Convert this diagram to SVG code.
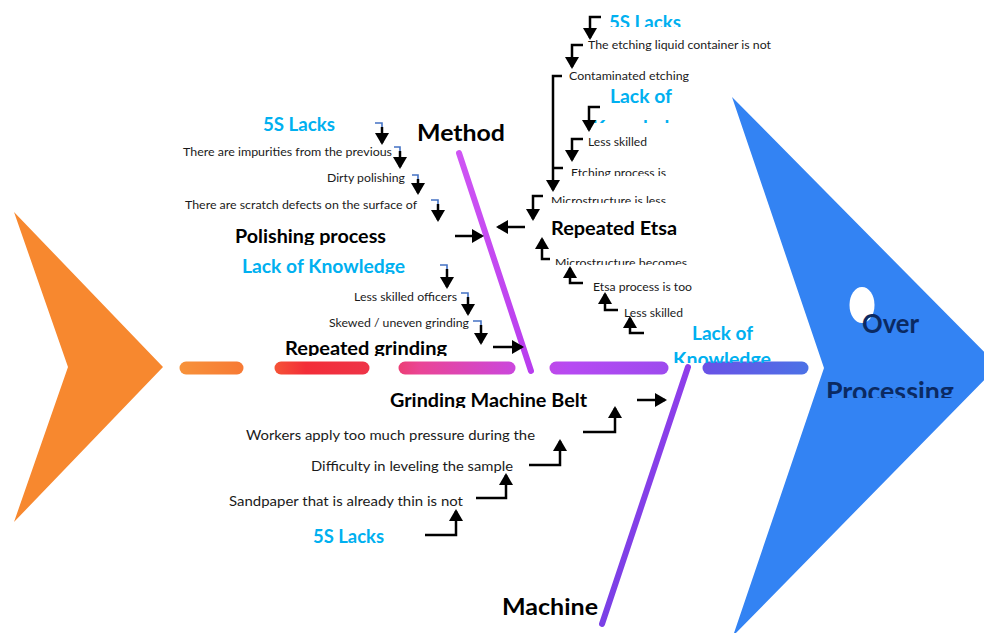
<svg xmlns="http://www.w3.org/2000/svg" width="984" height="633" viewBox="0 0 984 633">
  <style>
    text { font-family: Lato, "Liberation Sans", "DejaVu Sans", sans-serif; }
    .s { font-size: 11.5px; fill: #1a1a1a; }
    .m { font-size: 14px; fill: #1a1a1a; }
    .b { font-size: 18px; font-weight: bold; fill: #000; }
    .k { font-size: 18px; font-weight: bold; fill: #00B0F0; }
    .h { font-size: 23px; font-weight: bold; fill: #000; }
    .o { font-size: 26px; font-weight: bold; fill: #0B2A62; }
    .ar { stroke: #000; stroke-width: 2.5; fill: none; marker-end: url(#ah); }
    .ln { stroke: #000; stroke-width: 2.5; fill: none; }
    .tk { stroke: #4472C4; stroke-width: 1.6; fill: none; }
    .sp { stroke: url(#spineGrad); stroke-width: 13; stroke-linecap: round; }
  </style>
  <defs>
    <marker id="ah" markerUnits="userSpaceOnUse" markerWidth="12" markerHeight="14" refX="10" refY="7" orient="auto">
      <path d="M0,0 L12,7 L0,14 Z" fill="#000"/>
    </marker>
    <linearGradient id="spineGrad" gradientUnits="userSpaceOnUse" x1="180" y1="0" x2="810" y2="0">
      <stop offset="0" stop-color="#F7923A"/>
      <stop offset="0.1" stop-color="#F77A35"/>
      <stop offset="0.2" stop-color="#F32D38"/>
      <stop offset="0.3" stop-color="#EE3448"/>
      <stop offset="0.38" stop-color="#EA4595"/>
      <stop offset="0.53" stop-color="#CB47DC"/>
      <stop offset="0.62" stop-color="#B64AF2"/>
      <stop offset="0.78" stop-color="#9C4BEE"/>
      <stop offset="0.83" stop-color="#6A52E6"/>
      <stop offset="1" stop-color="#4B72E6"/>
    </linearGradient>
    <linearGradient id="methodGrad" gradientUnits="userSpaceOnUse" x1="459" y1="152" x2="531" y2="372">
      <stop offset="0" stop-color="#CF55F4"/>
      <stop offset="1" stop-color="#B83DEE"/>
    </linearGradient>
    <linearGradient id="machineGrad" gradientUnits="userSpaceOnUse" x1="688" y1="366" x2="602" y2="625">
      <stop offset="0" stop-color="#8F3EEA"/>
      <stop offset="1" stop-color="#7A40E6"/>
    </linearGradient>
    <clipPath id="c27"><rect x="0" y="0" width="984" height="27"/></clipPath>
    <clipPath id="c123"><rect x="0" y="110" width="984" height="13"/></clipPath>
    <clipPath id="c176"><rect x="0" y="150" width="984" height="26"/></clipPath>
    <clipPath id="c203"><rect x="0" y="180" width="984" height="23"/></clipPath>
    <clipPath id="c265"><rect x="0" y="245" width="984" height="20"/></clipPath>
    <clipPath id="c363"><rect x="0" y="345" width="984" height="18"/></clipPath>
    <clipPath id="c245"><rect x="0" y="215" width="984" height="30"/></clipPath>
    <clipPath id="c274"><rect x="0" y="250" width="984" height="24"/></clipPath>
    <clipPath id="c356"><rect x="0" y="330" width="984" height="26"/></clipPath>
    <clipPath id="c408"><rect x="0" y="380" width="984" height="28"/></clipPath>
    <clipPath id="c398"><rect x="0" y="370" width="984" height="28"/></clipPath>
  </defs>

  <rect width="984" height="633" fill="#fff"/>

  <!-- tail -->
  <g id="tail">
    <polygon points="14,212 163,367 14,522 68,367" fill="#F7882F"/>
  </g>

  <!-- head: effect -->
  <g id="head">
    <polygon points="732,97 998,366 733,636 824,368" fill="#3383F3"/>
    <ellipse cx="862" cy="305" rx="12.5" ry="18" fill="#fff"/>
    <text class="o" x="862" y="333" textLength="57" lengthAdjust="spacingAndGlyphs">Over</text>
    <g clip-path="url(#c398)">
      <text class="o" x="826" y="401" textLength="128" lengthAdjust="spacingAndGlyphs">Processing</text>
    </g>
  </g>

  <!-- spine and bones -->
  <g id="spine">
    <line class="sp" x1="186" y1="368" x2="237" y2="368"/>
    <line class="sp" x1="281" y1="368" x2="363" y2="368"/>
    <line class="sp" x1="405" y1="368" x2="509" y2="368"/>
    <line class="sp" x1="556" y1="368" x2="662" y2="368"/>
    <line class="sp" x1="709" y1="368" x2="802" y2="368"/>
  </g>
  <g id="method-bone">
    <line x1="459" y1="153" x2="531" y2="371" stroke="url(#methodGrad)" stroke-width="6" stroke-linecap="round"/>
  </g>
  <g id="machine-bone">
    <line x1="688" y1="367" x2="602" y2="624" stroke="url(#machineGrad)" stroke-width="6" stroke-linecap="round"/>
  </g>

  <!-- category labels -->
  <g id="method"><text class="h" x="417" y="141" textLength="88" lengthAdjust="spacingAndGlyphs">Method</text></g>
  <g id="machine"><text class="h" x="502" y="615" textLength="96" lengthAdjust="spacingAndGlyphs">Machine</text></g>

  <!-- Repeated Etsa branch -->
  <g id="etsa-5s">
    <g clip-path="url(#c27)"><text class="k" x="609" y="29" textLength="72" lengthAdjust="spacingAndGlyphs">5S Lacks</text></g>
  </g>
  <g id="etsa-container"><text class="s" x="588" y="49" textLength="183" lengthAdjust="spacingAndGlyphs">The etching liquid container is not</text></g>
  <g id="etsa-contaminated"><text class="s" x="569" y="80" textLength="120" lengthAdjust="spacingAndGlyphs">Contaminated etching</text></g>
  <g id="etsa-knowledge">
    <text class="k" x="610" y="103" textLength="62" lengthAdjust="spacingAndGlyphs">Lack of</text>
    <g clip-path="url(#c123)"><text class="k" x="592" y="134" textLength="98" lengthAdjust="spacingAndGlyphs">Knowledge</text></g>
  </g>
  <g id="etsa-skilled"><text class="s" x="588" y="146" textLength="59" lengthAdjust="spacingAndGlyphs">Less skilled</text></g>
  <g id="etsa-process">
    <g clip-path="url(#c176)"><text class="s" x="571" y="177" textLength="95" lengthAdjust="spacingAndGlyphs">Etching process is</text></g>
  </g>
  <g id="etsa-micro-less">
    <g clip-path="url(#c203)"><text class="s" x="551" y="205" textLength="115" lengthAdjust="spacingAndGlyphs">Microstructure is less</text></g>
  </g>
  <g id="repeated-etsa"><text class="b" x="551" y="235" textLength="126" lengthAdjust="spacingAndGlyphs">Repeated Etsa</text></g>
  <g id="etsa-micro-becomes">
    <g clip-path="url(#c265)"><text class="s" x="555" y="267" textLength="132" lengthAdjust="spacingAndGlyphs">Microstructure becomes</text></g>
  </g>
  <g id="etsa-too"><text class="s" x="593" y="291" textLength="99" lengthAdjust="spacingAndGlyphs">Etsa process is too</text></g>
  <g id="etsa-skilled-2"><text class="s" x="624" y="317" textLength="59" lengthAdjust="spacingAndGlyphs">Less skilled</text></g>
  <g id="etsa-knowledge-2">
    <text class="k" x="692" y="340" textLength="61" lengthAdjust="spacingAndGlyphs">Lack of</text>
    <g clip-path="url(#c363)"><text class="k" x="673" y="366" textLength="98" lengthAdjust="spacingAndGlyphs">Knowledge</text></g>
  </g>

  <!-- Polishing process branch -->
  <g id="polish-5s"><text class="k" x="263" y="131" textLength="72" lengthAdjust="spacingAndGlyphs">5S Lacks</text></g>
  <g id="polish-impurities"><text class="s" x="183" y="156" textLength="209" lengthAdjust="spacingAndGlyphs">There are impurities from the previous</text></g>
  <g id="polish-dirty"><text class="s" x="327" y="182" textLength="78" lengthAdjust="spacingAndGlyphs">Dirty polishing</text></g>
  <g id="polish-scratch"><text class="s" x="185" y="209" textLength="232" lengthAdjust="spacingAndGlyphs">There are scratch defects on the surface of</text></g>
  <g id="polishing-process">
    <g clip-path="url(#c245)"><text class="b" x="235" y="243" textLength="151" lengthAdjust="spacingAndGlyphs">Polishing process</text></g>
  </g>

  <!-- Repeated grinding branch -->
  <g id="grind-knowledge">
    <g clip-path="url(#c274)"><text class="k" x="242" y="273" textLength="163" lengthAdjust="spacingAndGlyphs">Lack of Knowledge</text></g>
  </g>
  <g id="grind-officers"><text class="s" x="354" y="301" textLength="103" lengthAdjust="spacingAndGlyphs">Less skilled officers</text></g>
  <g id="grind-skewed"><text class="s" x="329" y="327" textLength="140" lengthAdjust="spacingAndGlyphs">Skewed / uneven grinding</text></g>
  <g id="repeated-grinding">
    <g clip-path="url(#c356)"><text class="b" x="285" y="355" textLength="162" lengthAdjust="spacingAndGlyphs">Repeated grinding</text></g>
  </g>

  <!-- Grinding Machine Belt branch -->
  <g id="belt">
    <g clip-path="url(#c408)"><text class="b" x="390" y="407" textLength="197" lengthAdjust="spacingAndGlyphs">Grinding Machine Belt</text></g>
  </g>
  <g id="belt-pressure"><text class="m" x="246" y="440" textLength="289" lengthAdjust="spacingAndGlyphs">Workers apply too much pressure during the</text></g>
  <g id="belt-leveling"><text class="m" x="311" y="471" textLength="202" lengthAdjust="spacingAndGlyphs">Difficulty in leveling the sample</text></g>
  <g id="belt-sandpaper"><text class="m" x="229" y="506" textLength="234" lengthAdjust="spacingAndGlyphs">Sandpaper that is already thin is not</text></g>
  <g id="belt-5s"><text class="k" x="313" y="543" textLength="71" lengthAdjust="spacingAndGlyphs">5S Lacks</text></g>

  <!-- connectors -->
  <g id="connectors">
    <!-- Repeated Etsa -->
    <path class="ar" d="M601,17 H590 V38"/>
    <path class="ar" d="M583,45 H572 V67"/>
    <path class="ar" d="M562,76 H553 V190"/>
    <path class="ln" d="M553,168 H563"/>
    <path class="ar" d="M600,107 H589 V130"/>
    <path class="ar" d="M583,139 H572 V160"/>
    <path class="ar" d="M543,196 H533 V219"/>
    <path class="ar" d="M525,227 H498"/>
    <path class="ar" d="M550,259 H542 V239"/>
    <path class="ar" d="M583,283 H570 V268"/>
    <path class="ar" d="M618,310 H605 V294"/>
    <path class="ar" d="M644,333 H630 V318"/>

    <!-- Polishing process -->
    <path class="tk" d="M375,123 H382 V127"/>
    <path class="ar" d="M382,127 V143"/>
    <path class="tk" d="M394,147 H400 V151"/>
    <path class="ar" d="M400,151 V167"/>
    <path class="tk" d="M412,175 H418 V179"/>
    <path class="ar" d="M418,179 V193"/>
    <path class="tk" d="M431,200 H438 V204"/>
    <path class="ar" d="M438,204 V220"/>
    <path class="ar" d="M455,236 H482"/>

    <!-- Repeated grinding -->
    <path class="tk" d="M440,265 H447 V269"/>
    <path class="ar" d="M447,269 V287"/>
    <path class="tk" d="M461,293 H468 V297"/>
    <path class="ar" d="M468,297 V314"/>
    <path class="tk" d="M473,321 H481 V325"/>
    <path class="ar" d="M481,325 V343"/>
    <path class="ar" d="M493,347 H522"/>

    <!-- Grinding Machine Belt -->
    <path class="ar" d="M637,400 H665"/>
    <path class="ar" d="M583,432 H615 V408"/>
    <path class="ar" d="M529,465 H560 V441"/>
    <path class="ar" d="M476,498 H506 V475"/>
    <path class="ar" d="M425,535 H456 V511"/>
  </g>
</svg>
